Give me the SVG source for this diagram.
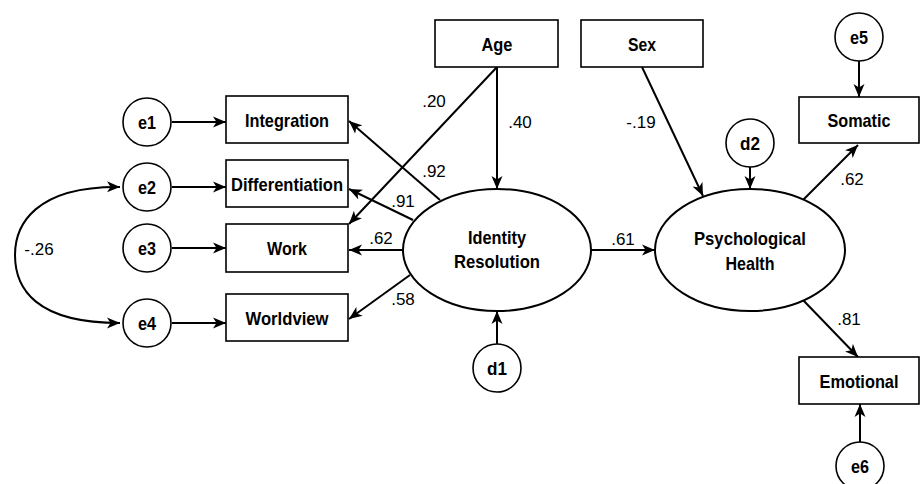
<svg xmlns="http://www.w3.org/2000/svg" width="920" height="484" viewBox="0 0 920 484">
<style>
.box{fill:#fff;stroke:#000;stroke-width:1.6}
.circ{fill:#fff;stroke:#000;stroke-width:1.6}
.ell{fill:#fff;stroke:#000;stroke-width:2}
.lbl{font-family:"Liberation Sans",Arial,sans-serif;font-weight:bold;font-size:19px;text-anchor:middle;fill:#000}
.num{font-family:"Liberation Sans",Arial,sans-serif;font-size:17px;text-anchor:middle;fill:#000}
.con{fill:none;stroke:#000;stroke-width:2;marker-end:url(#ah)}
</style>
<defs>
<marker id="ah" markerUnits="userSpaceOnUse" markerWidth="14" markerHeight="12" refX="13" refY="6" orient="auto">
<path d="M0,0.5 L13,6 L0,11.5 L3.5,6 z" fill="#000"/>
</marker>
<marker id="ahs" markerUnits="userSpaceOnUse" markerWidth="14" markerHeight="12" refX="13" refY="6" orient="auto-start-reverse">
<path d="M0,0.5 L13,6 L0,11.5 L3.5,6 z" fill="#000"/>
</marker>
</defs>
<rect width="920" height="484" fill="#fff"/>
<g id="connectors">
<path class="con" d="M172,122 L226,122"/>
<path class="con" d="M172,187 L226,187"/>
<path class="con" d="M172,248 L226,248"/>
<path class="con" d="M172,323 L226,323"/>
<path d="M120,187 C35,186 15,225 15,255 C15,288 35,323 120,323" fill="none" stroke="#000" stroke-width="2" marker-start="url(#ahs)" marker-end="url(#ahs)"/>
<path class="con" d="M497,67 L497,189"/>
<path class="con" d="M497,67 L349,224"/>
<path class="con" d="M440,200 L349,121"/>
<path class="con" d="M413,220 L349,189"/>
<path class="con" d="M403,250 L349,250"/>
<path class="con" d="M410,275 L349,319"/>
<path class="con" d="M497,344 L497,311"/>
<path class="con" d="M591,250 L655,250"/>
<path class="con" d="M642,67 L703,196"/>
<path class="con" d="M750,167 L750,189"/>
<path class="con" d="M859,61 L859,97"/>
<path class="con" d="M803,200 L858,145"/>
<path class="con" d="M803,300 L858,357"/>
<path class="con" d="M860,442 L860,404"/>
<text class="num" x="434" y="107">.20</text>
<text class="num" x="520" y="128">.40</text>
<text class="num" x="434" y="177">.92</text>
<text class="num" x="403" y="207">.91</text>
<text class="num" x="381" y="244">.62</text>
<text class="num" x="403" y="305">.58</text>
<text class="num" x="623" y="245">.61</text>
<text class="num" x="641" y="128">-.19</text>
<text class="num" x="852" y="185">.62</text>
<text class="num" x="849" y="325">.81</text>
<text class="num" x="39" y="255">-.26</text>
</g>
<g id="e1"><circle class="circ" cx="147" cy="122" r="24"/><text class="lbl" x="147" y="129" textLength="18" lengthAdjust="spacingAndGlyphs">e1</text></g>
<g id="e2"><circle class="circ" cx="147" cy="187" r="24"/><text class="lbl" x="147" y="194" textLength="18" lengthAdjust="spacingAndGlyphs">e2</text></g>
<g id="e3"><circle class="circ" cx="147" cy="248" r="24"/><text class="lbl" x="147" y="255" textLength="18" lengthAdjust="spacingAndGlyphs">e3</text></g>
<g id="e4"><circle class="circ" cx="147" cy="323" r="24"/><text class="lbl" x="147" y="330" textLength="18" lengthAdjust="spacingAndGlyphs">e4</text></g>
<g id="integration"><rect class="box" x="226" y="96" width="122" height="47"/><text class="lbl" x="287" y="127" textLength="84" lengthAdjust="spacingAndGlyphs">Integration</text></g>
<g id="differentiation"><rect class="box" x="226" y="160" width="122" height="47"/><text class="lbl" x="287" y="191" textLength="112" lengthAdjust="spacingAndGlyphs">Differentiation</text></g>
<g id="work"><rect class="box" x="226" y="224" width="122" height="48"/><text class="lbl" x="287" y="255" textLength="40" lengthAdjust="spacingAndGlyphs">Work</text></g>
<g id="worldview"><rect class="box" x="226" y="294" width="122" height="47"/><text class="lbl" x="287" y="325" textLength="83" lengthAdjust="spacingAndGlyphs">Worldview</text></g>
<g id="age"><rect class="box" x="435" y="20" width="123" height="47"/><text class="lbl" x="497" y="51" textLength="31" lengthAdjust="spacingAndGlyphs">Age</text></g>
<g id="sex"><rect class="box" x="581" y="20" width="122" height="47"/><text class="lbl" x="642" y="51" textLength="28" lengthAdjust="spacingAndGlyphs">Sex</text></g>
<g id="identity"><ellipse class="ell" cx="497" cy="250" rx="94" ry="61"/><text class="lbl" x="497" y="244" textLength="58" lengthAdjust="spacingAndGlyphs">Identity</text><text class="lbl" x="497" y="268" textLength="86" lengthAdjust="spacingAndGlyphs">Resolution</text></g>
<g id="d1"><circle class="circ" cx="497" cy="368" r="24"/><text class="lbl" x="497" y="375" textLength="20" lengthAdjust="spacingAndGlyphs">d1</text></g>
<g id="psych"><ellipse class="ell" cx="750" cy="250" rx="95" ry="61"/><text class="lbl" x="750" y="245" textLength="112" lengthAdjust="spacingAndGlyphs">Psychological</text><text class="lbl" x="750" y="270" textLength="49" lengthAdjust="spacingAndGlyphs">Health</text></g>
<g id="d2"><circle class="circ" cx="750" cy="143" r="24"/><text class="lbl" x="750" y="150" textLength="20" lengthAdjust="spacingAndGlyphs">d2</text></g>
<g id="e5"><circle class="circ" cx="859" cy="37" r="24"/><text class="lbl" x="859" y="44" textLength="18" lengthAdjust="spacingAndGlyphs">e5</text></g>
<g id="somatic"><rect class="box" x="799" y="97" width="120" height="46"/><text class="lbl" x="859" y="127" textLength="63" lengthAdjust="spacingAndGlyphs">Somatic</text></g>
<g id="emotional"><rect class="box" x="799" y="357" width="120" height="47"/><text class="lbl" x="859" y="388" textLength="79" lengthAdjust="spacingAndGlyphs">Emotional</text></g>
<g id="e6"><circle class="circ" cx="860" cy="466" r="24"/><text class="lbl" x="860" y="473" textLength="18" lengthAdjust="spacingAndGlyphs">e6</text></g>
</svg>
